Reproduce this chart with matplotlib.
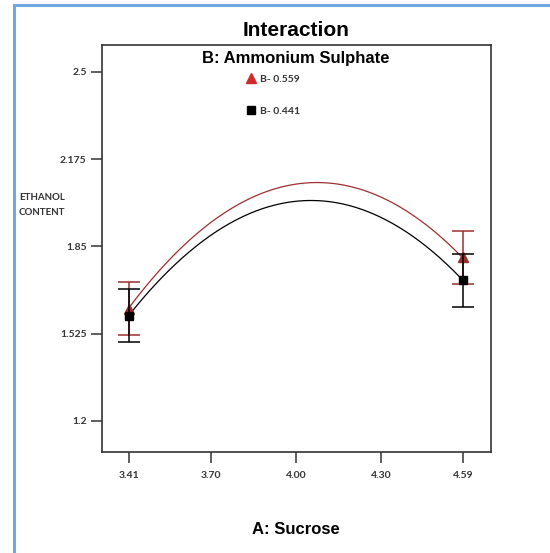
import numpy as np
from matplotlib import pyplot as plt
from matplotlib.lines import Line2D

# A: Sucrose levels shown on the axis
sucrose = [3.41, 3.70, 4.00, 4.30, 4.59]
# predicted ethanol content along each curve at those levels
ethanol_high = [1.618, 1.945, 2.082, 2.028, 1.809]   # B = 0.559
ethanol_low = [1.592, 1.895, 2.014, 1.960, 1.723]    # B = 0.441

# design points with their interval half-widths
design_x = [3.41, 4.59]
design_high = [1.618, 1.809]
design_low = [1.592, 1.723]
interval = [0.098, 0.098]

yticks = [1.2, 1.525, 1.85, 2.175, 2.5]
xtick_labels = ["3.41", "3.70", "4.00", "4.30", "4.59"]

red = "#9c2f2f"
narrow = ["Liberation Sans Narrow", "Liberation Sans", "DejaVu Sans"]
small = ["Lato", "DejaVu Sans"]

fig = plt.figure(figsize=(5.5, 5.53), dpi=100)
ax = fig.add_axes([102 / 550, 101 / 553, 389 / 550, 407 / 553])


def draw_curve(x, y, color):
    coef = np.polyfit(x, y, 2)
    f = np.poly1d(coef)
    fx = np.linspace(min(x), max(x), 200)
    ax.plot(fx, f(fx), color=color, lw=0.9, zorder=2)


draw_curve(sucrose, ethanol_high, red)
draw_curve(sucrose, ethanol_low, "black")

ax.errorbar(design_x, design_high, yerr=interval, fmt="^", color=red,
            ecolor=red, ms=7, capsize=8, elinewidth=1.1, capthick=1.1, zorder=3)
ax.errorbar(design_x, design_low, yerr=interval, fmt="s", color="black",
            ecolor="black", ms=6, capsize=8, elinewidth=1.1, capthick=1.1, zorder=4)

ax.set_xlim(3.315, 4.689)
ax.set_ylim(1.084, 2.6)
ax.set_xticks(sucrose)
ax.set_xticklabels(xtick_labels)
ax.set_yticks(yticks)
ax.set_yticklabels([str(v) for v in yticks])

for lab in ax.get_xticklabels() + ax.get_yticklabels():
    lab.set_fontfamily(small)
    lab.set_fontsize(7.5)
    lab.set_fontweight("bold")
    lab.set_color("#333333")
ax.tick_params(axis="both", direction="out", length=8, width=1.1, color="#333333")
ax.tick_params(axis="x", pad=6)
ax.tick_params(axis="y", pad=3)
for sp in ax.spines.values():
    sp.set_linewidth(1.2)
    sp.set_color("#333333")

# title and factor name
fig.text(296 / 550, 1 - 30 / 553, "Interaction", ha="center", va="center",
         fontsize=15, fontweight="bold", family=narrow)
fig.text(296 / 550, 1 - 58 / 553, "B: Ammonium Sulphate", ha="center", va="center",
         fontsize=12, fontweight="bold", family=narrow)
fig.text(296 / 550, 1 - 530 / 553, "A: Sucrose", ha="center", va="center",
         fontsize=12, fontweight="bold", family=narrow)
fig.text(19 / 550, 1 - 205 / 553, "ETHANOL\nCONTENT", ha="left", va="center",
         fontsize=7, fontweight="bold", family=small, color="#333333", linespacing=1.9)

handles = [
    Line2D([], [], marker="^", color="#d22a2a", ls="none", ms=7),
    Line2D([], [], marker="s", color="black", ls="none", ms=5.5),
]
leg = ax.legend(handles, ["B- 0.559", "B- 0.441"], loc="upper left",
                bbox_to_anchor=(135 / 389, 1 - 20 / 407), frameon=False,
                handlelength=0.8, handletextpad=0.5, labelspacing=2.2,
                prop={"family": small, "size": 7.5, "weight": "bold"})
for t in leg.get_texts():
    t.set_color("#333333")

# light blue border on the left and top
fig.add_artist(Line2D([14 / 550, 14 / 550], [0, 1 - 5 / 553], color="#6fa8e0", lw=2.2))
fig.add_artist(Line2D([14 / 550, 1], [1 - 5 / 553, 1 - 5 / 553], color="#6fa8e0", lw=2.2))

fig.savefig("out.png", dpi=100)
